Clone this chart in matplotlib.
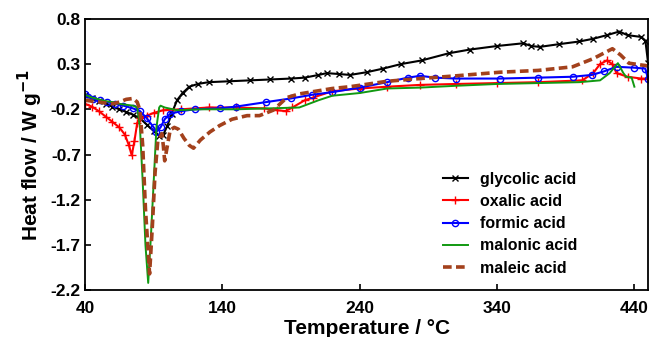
import matplotlib.pyplot as plt

plt.rcParams['font.family'] = ['Liberation Sans', 'DejaVu Sans']
plt.rcParams['font.weight'] = 'bold'

# glycolic acid
t_gly = [40, 45, 50, 55, 60, 65, 70, 75, 80, 85, 90, 94, 97, 100, 103, 107, 111, 116, 122, 130,
         145, 160, 175, 190, 200, 210, 216, 225, 233, 245, 257, 270, 285, 305, 320, 340, 359, 365,
         371, 385, 400, 410, 420, 429, 435, 445, 448, 450]
h_gly = [-0.04, -0.08, -0.11, -0.14, -0.17, -0.2, -0.23, -0.26, -0.3, -0.37, -0.44, -0.49, -0.48,
         -0.38, -0.25, -0.1, -0.02, 0.05, 0.08, 0.1, 0.11, 0.12, 0.13, 0.14, 0.15, 0.18, 0.2, 0.19,
         0.18, 0.21, 0.25, 0.3, 0.34, 0.42, 0.46, 0.5, 0.53, 0.5, 0.49, 0.52, 0.55, 0.58, 0.62, 0.66,
         0.62, 0.6, 0.56, 0.31]

# oxalic acid
t_oxa = [40, 45, 50, 55, 60, 65, 69, 72, 74, 76, 78, 80, 85, 90, 97, 110, 130, 150, 170, 180, 186,
         191, 200, 206, 220, 240, 260, 284, 310, 340, 370, 402, 410, 415, 420, 424, 427, 435, 445, 450]
h_oxa = [-0.14, -0.17, -0.22, -0.28, -0.34, -0.4, -0.48, -0.6, -0.71, -0.55, -0.35, -0.3, -0.27,
         -0.24, -0.21, -0.2, -0.18, -0.18, -0.19, -0.21, -0.22, -0.18, -0.1, -0.07, 0.0, 0.03, 0.05,
         0.07, 0.08, 0.09, 0.1, 0.12, 0.2, 0.3, 0.34, 0.3, 0.2, 0.16, 0.14, 0.14]

# formic acid
t_for = [40, 42, 46, 51, 56, 62, 68, 75, 80, 85, 90, 92, 95, 98, 102, 110, 120, 138, 150, 172, 190,
         205, 220, 240, 260, 275, 284, 295, 310, 342, 370, 395, 409, 418, 427, 440, 448, 450]
h_for = [-0.03, -0.06, -0.09, -0.1, -0.12, -0.14, -0.16, -0.19, -0.22, -0.3, -0.4, -0.45, -0.4,
         -0.31, -0.25, -0.22, -0.2, -0.19, -0.17, -0.12, -0.08, -0.04, -0.01, 0.04, 0.1, 0.15, 0.17,
         0.15, 0.14, 0.14, 0.15, 0.16, 0.18, 0.22, 0.27, 0.26, 0.25, 0.13]

# malonic acid
t_mal = [40, 45, 50, 55, 60, 65, 70, 75, 78, 80, 82, 84, 86, 88, 90, 92, 94, 95, 98, 107, 125, 150,
         196, 210, 220, 240, 260, 284, 310, 340, 370, 400, 415, 422, 428, 432, 434, 438, 439, 440]
h_mal = [-0.04, -0.07, -0.09, -0.11, -0.12, -0.14, -0.15, -0.16, -0.18, -0.4, -1.0, -1.7, -2.12,
         -1.6, -1.0, -0.4, -0.18, -0.16, -0.18, -0.21, -0.2, -0.2, -0.18, -0.1, -0.05, -0.02, 0.03,
         0.04, 0.06, 0.08, 0.09, 0.1, 0.12, 0.2, 0.31, 0.2, 0.16, 0.15, 0.1, 0.05]

# maleic acid
t_mle = [40, 45, 50, 55, 60, 65, 70, 75, 78, 80, 82, 84, 87, 89, 91, 93, 96, 97, 98, 100, 102, 105,
         108, 112, 116, 119, 124, 131, 138, 147, 158, 167, 177, 182, 187, 196, 204, 220, 233, 260,
         284, 310, 342, 370, 395, 410, 424, 430, 436, 445, 450]
h_mle = [-0.1, -0.11, -0.12, -0.13, -0.14, -0.12, -0.09, -0.08, -0.12, -0.21, -0.6, -1.3, -2.02,
         -1.5, -0.9, -0.55, -0.47, -0.6, -0.77, -0.6, -0.43, -0.4, -0.42, -0.52, -0.6, -0.63, -0.54,
         -0.45, -0.38, -0.31, -0.27, -0.27, -0.21, -0.14, -0.07, -0.03, -0.01, 0.03, 0.05, 0.11,
         0.14, 0.17, 0.21, 0.23, 0.27, 0.36, 0.47, 0.4, 0.31, 0.29, 0.28]

fig = plt.figure(figsize=(6.54, 3.37), dpi=100)
ax = fig.add_axes([0.130, 0.139, 0.861, 0.805])

ax.plot(t_gly, h_gly, color='black', marker='x', markersize=4.5, lw=1.5, label='glycolic acid')
ax.plot(t_oxa, h_oxa, color='red', marker='+', markersize=5.5, lw=1.5, label='oxalic acid')
ax.plot(t_for, h_for, color='blue', marker='o', markersize=4.5, markerfacecolor='none',
        lw=1.5, label='formic acid')
ax.plot(t_mal, h_mal, color='#119911', lw=1.4, label='malonic acid')
ax.plot(t_mle, h_mle, color='#A3411C', lw=2.6, dashes=(2.4, 1.2), label='maleic acid')

ax.set_xlim(40, 450)
ax.set_ylim(-2.2, 0.8)
ax.set_xticks([40, 140, 240, 340, 440])
ax.set_yticks([0.8, 0.3, -0.2, -0.7, -1.2, -1.7, -2.2])
ax.set_yticklabels(['0.8', '0.3', '-0.2', '-0.7', '-1.2', '-1.7', '-2.2'])
ax.tick_params(direction='in', labelsize=12.5, length=4, width=1.2)
ax.tick_params(axis='x', pad=8)
ax.tick_params(axis='y', pad=3)
for lab in ax.get_xticklabels() + ax.get_yticklabels():
    lab.set_fontweight('bold')
for s in ax.spines.values():
    s.set_linewidth(1.3)

ax.set_xlabel('Temperature / °C', fontsize=15, fontweight='bold', labelpad=2)
ax.set_ylabel('Heat flow / W g$^{\\mathbf{-1}}$', fontsize=15, fontweight='bold', labelpad=4)

leg = ax.legend(loc='center left', bbox_to_anchor=(0.635, 0.245), frameon=False, borderpad=0,
                borderaxespad=0, fontsize=11.5, handlelength=1.6, labelspacing=0.45,
                handletextpad=0.75)
for t in leg.get_texts():
    t.set_fontweight('bold')

fig.savefig('out.png', dpi=100)
